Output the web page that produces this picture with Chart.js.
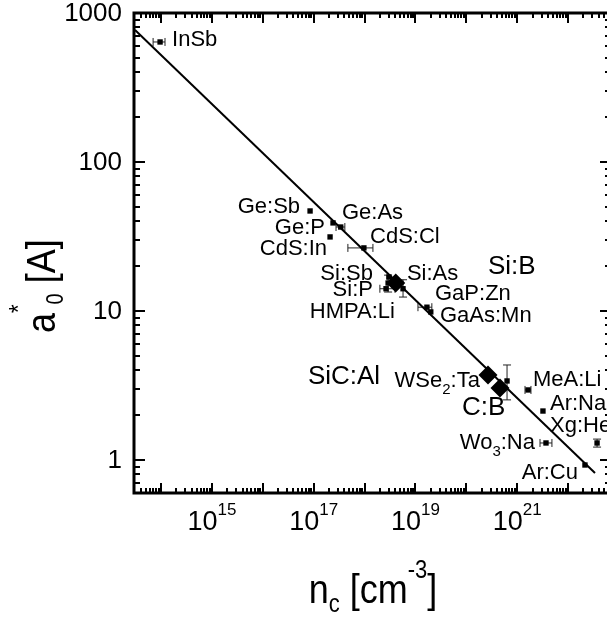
<!DOCTYPE html>
<html><head><meta charset="utf-8">
<script src="https://cdn.jsdelivr.net/npm/chart.js@4/dist/chart.umd.min.js"></script>
<style>html,body{margin:0;padding:0;background:#fff}#c{display:block}</style>
</head><body>
<canvas id="c" width="607" height="617"></canvas>
<script>
// ---- data (n_c in cm^-3, a0* in Angstrom) ----
const pointNames = ['InSb','Ge:Sb','Ge:P','Ge:As','CdS:In','CdS:Cl','Si:Sb','Si:P','HMPA:Li','Si:As','GaP:Zn','GaAs:Mn','WSe2:Ta','MeA:Li','Ar:Na','Wo3:Na','Xg:He','Ar:Cu'];
const nValues  = [9.6e13, 8.5e16, 2.4e17, 3.4e17, 2.1e17, 9.7e17, 3.0e18, 2.64e18, 2.9e18, 5.7e18, 1.68e19, 2.0e19, 6.3e20, 1.63e21, 3.2e21, 3.67e21, 3.7e22, 2.14e22];
const aValues  = [639, 46.9, 39.0, 36.6, 31.4, 26.5, 16.9, 14.1, 15.4, 14.1, 10.6, 9.85, 3.39, 2.95, 2.13, 1.30, 1.30, 0.925];
const nErrLow  = [7.0e13, null, null, 2.75e17, null, 4.7e17, null, 2.0e18, null, null, 1.12e19, null, null, 1.42e21, null, 2.8e21, null, null];
const nErrHigh = [1.2e14, null, null, 4.1e17, null, 1.46e18, null, 3.96e18, null, null, 2.1e19, null, null, 1.86e21, null, 4.8e21, null, null];
const aErrLow  = [null, null, null, null, null, null, null, null, 13.4, 12.4, null, null, 2.53, null, null, null, 1.22, null];
const aErrHigh = [null, null, null, null, null, null, null, null, 17.4, 16.2, null, null, 4.34, null, null, null, 1.38, null];

const diamondNames = ['Si:B','SiC:Al','C:B'];
const diamondN = [4.1e18, 2.66e20, 4.58e20];
const diamondA = [15.4, 3.72, 3.04];

const fitN = [3.09e13, 3.37e22];
const fitA = [769, 0.818];

const yTickValues = [1, 10, 100, 1000];
const yTickLabels = ['1', '10', '100', '1000'];
const xTickExponents = [15, 17, 19, 21];

const xRange = [2.95e13, 5.8e22];
const yRange = [0.6, 1000];

// text annotations: [text ('_' = next char subscript), n, a, align, big]
const annotations = [
  ['InSb', 1.65e14, 659, 'left', false],
  ['Ge:Sb', 5.4e16, 49.9, 'right', false],
  ['Ge:As', 3.6e17, 45.5, 'left', false],
  ['Ge:P', 1.67e17, 36.1, 'right', false],
  ['CdS:In', 1.83e17, 26.1, 'right', false],
  ['CdS:Cl', 1.28e18, 31.4, 'left', false],
  ['Si:Sb', 1.46e18, 17.7, 'right', false],
  ['Si:As', 6.8e18, 17.7, 'left', false],
  ['Si:P', 1.46e18, 13.8, 'right', false],
  ['HMPA:Li', 3.96e18, 9.85, 'right', false],
  ['Si:B', 2.66e20, 19.7, 'left', true],
  ['GaP:Zn', 2.42e19, 13.0, 'left', false],
  ['GaAs:Mn', 3.03e19, 9.25, 'left', false],
  ['SiC:Al', 7.7e16, 3.61, 'left', true],
  ['WSe_2:Ta', 1.85e20, 3.39, 'right', false],
  ['C:B', 8.2e19, 2.23, 'left', true],
  ['MeA:Li', 2.04e21, 3.44, 'left', false],
  ['Ar:Na', 4.4e21, 2.38, 'left', false],
  ['Xg:He', 4.4e21, 1.69, 'left', false],
  ['Wo_3:Na', 2.23e21, 1.30, 'right', false],
  ['Ar:Cu', 1.56e22, 0.818, 'right', false]
];

const FONT = "'Liberation Sans', Arial, sans-serif";

function drawRich(ctx, segs, x, y, align) {
  let w = 0;
  segs.forEach(s => { ctx.font = s.size + 'px ' + FONT; s.w = ctx.measureText(s.t).width; w += s.w; });
  let cx = align === 'right' ? x - w : (align === 'center' ? x - w / 2 : x);
  ctx.textAlign = 'left';
  segs.forEach(s => { ctx.font = s.size + 'px ' + FONT; ctx.fillText(s.t, cx, y + (s.dy || 0)); cx += s.w; });
}

function labelSegs(text, size) {
  const segs = [];
  let buf = '';
  for (let i = 0; i < text.length; i++) {
    if (text[i] === '_') {
      if (buf) segs.push({t: buf, size: size});
      buf = '';
      segs.push({t: text[i + 1], size: Math.round(size * 0.68), dy: 9});
      i++;
    } else buf += text[i];
  }
  if (buf) segs.push({t: buf, size: size});
  return segs;
}

const decor = {
  id: 'decor',
  beforeDatasetsDraw(chart) {
    const {ctx, scales: {x, y}} = chart;
    ctx.save();
    ctx.strokeStyle = '#222';
    ctx.lineWidth = 1;
    const cap = 4;
    for (let i = 0; i < nValues.length; i++) {
      const px = x.getPixelForValue(nValues[i]);
      const py = y.getPixelForValue(aValues[i]);
      if (nErrLow[i] !== null) {
        const x1 = x.getPixelForValue(nErrLow[i]), x2 = x.getPixelForValue(nErrHigh[i]);
        ctx.beginPath();
        ctx.moveTo(x1, py); ctx.lineTo(x2, py);
        ctx.moveTo(x1, py - cap); ctx.lineTo(x1, py + cap);
        ctx.moveTo(x2, py - cap); ctx.lineTo(x2, py + cap);
        ctx.stroke();
      }
      if (aErrLow[i] !== null) {
        const y1 = y.getPixelForValue(aErrLow[i]), y2 = y.getPixelForValue(aErrHigh[i]);
        ctx.beginPath();
        ctx.moveTo(px, y1); ctx.lineTo(px, y2);
        ctx.moveTo(px - cap, y1); ctx.lineTo(px + cap, y1);
        ctx.moveTo(px - cap, y2); ctx.lineTo(px + cap, y2);
        ctx.stroke();
      }
    }
    ctx.restore();
  },
  afterDraw(chart) {
    const {ctx, chartArea: a, scales: {x, y}} = chart;
    const rightAxis = a.right + 4; // right axis lies just outside the picture
    ctx.save();
    ctx.fillStyle = '#000';
    ctx.strokeStyle = '#000';
    // frame (left, bottom, top)
    ctx.lineWidth = 3;
    ctx.beginPath();
    ctx.moveTo(a.left, a.top); ctx.lineTo(rightAxis, a.top);
    ctx.moveTo(a.left, a.top - 1.5); ctx.lineTo(a.left, a.bottom + 1.5);
    ctx.moveTo(a.left, a.bottom); ctx.lineTo(rightAxis, a.bottom);
    ctx.stroke();
    // ticks
    ctx.lineWidth = 2;
    ctx.beginPath();
    for (let k = 13; k <= 22; k++) {
      for (let m = 1; m <= 9; m++) {
        const v = m * Math.pow(10, k);
        if (v < xRange[0] || v > xRange[1]) continue;
        const px = Math.round(x.getPixelForValue(v));
        const len = m === 1 ? 10 : 5;
        ctx.moveTo(px, a.bottom); ctx.lineTo(px, a.bottom - len);
        ctx.moveTo(px, a.top); ctx.lineTo(px, a.top + len);
      }
    }
    for (let k = -1; k <= 3; k++) {
      for (let m = 1; m <= 9; m++) {
        const v = m * Math.pow(10, k);
        if (v < yRange[0] || v > yRange[1]) continue;
        const py = Math.round(y.getPixelForValue(v));
        const len = m === 1 ? 11 : 6;
        ctx.moveTo(a.left, py); ctx.lineTo(a.left + len, py);
        ctx.moveTo(rightAxis, py); ctx.lineTo(rightAxis - len, py);
      }
    }
    ctx.stroke();
    // y tick labels
    ctx.font = '26px ' + FONT;
    ctx.textAlign = 'right';
    ctx.textBaseline = 'middle';
    yTickValues.forEach((v, i) => {
      ctx.fillText(yTickLabels[i], a.left - 12, y.getPixelForValue(v) + 1);
    });
    // x tick labels
    ctx.textBaseline = 'alphabetic';
    xTickExponents.forEach(e => {
      const px = x.getPixelForValue(Math.pow(10, e));
      drawRich(ctx, [{t: '10', size: 27}, {t: String(e), size: 17, dy: -15}], px, 530, 'center');
    });
    // annotations
    ctx.textBaseline = 'middle';
    annotations.forEach(([t, n, v, align, big]) => {
      const size = big ? 26 : 22;
      drawRich(ctx, labelSegs(t, size), x.getPixelForValue(n), y.getPixelForValue(v), align);
    });
    // x title
    ctx.textBaseline = 'alphabetic';
    ctx.save();
    ctx.translate(373, 603);
    ctx.scale(1, 1.15);
    drawRich(ctx, [
      {t: 'n', size: 36}, {t: 'c', size: 22, dy: 8},
      {t: ' [cm', size: 36}, {t: '-3', size: 22, dy: -22}, {t: ']', size: 36}
    ], 0, 0, 'center');
    ctx.restore();
    // y title
    ctx.save();
    ctx.translate(55, 333);
    ctx.rotate(-Math.PI / 2);
    ctx.scale(1, 1.15);
    drawRich(ctx, [
      {t: 'a', size: 36}, {t: '*', size: 22, dy: -24}, {t: '0', size: 20, dy: 7},
      {t: ' [A]', size: 36}
    ], 0, 0, 'left');
    ctx.restore();
    ctx.restore();
  }
};

new Chart(document.getElementById('c'), {
  type: 'scatter',
  data: {
    datasets: [
      {
        type: 'line',
        label: 'fit',
        data: fitN.map((n, i) => ({x: n, y: fitA[i]})),
        borderColor: '#000', borderWidth: 2, pointRadius: 0, fill: false, tension: 0
      },
      {
        label: 'points',
        data: nValues.map((n, i) => ({x: n, y: aValues[i]})),
        pointStyle: 'rect', pointRadius: 3.8, pointBorderWidth: 0,
        backgroundColor: '#000', borderColor: '#000'
      },
      {
        label: 'diamonds',
        data: diamondN.map((n, i) => ({x: n, y: diamondA[i]})),
        pointStyle: 'rectRot', pointRadius: 9.5, pointBorderWidth: 0,
        backgroundColor: '#000', borderColor: '#000'
      }
    ]
  },
  options: {
    responsive: false,
    animation: false,
    devicePixelRatio: 1,
    layout: {autoPadding: false, padding: {left: 134, top: 13, right: 0, bottom: 124}},
    plugins: {legend: {display: false}, tooltip: {enabled: false}},
    scales: {
      x: {type: 'logarithmic', min: xRange[0], max: xRange[1], display: false},
      y: {type: 'logarithmic', min: yRange[0], max: yRange[1], display: false}
    }
  },
  plugins: [decor]
});
</script>
</body></html>
